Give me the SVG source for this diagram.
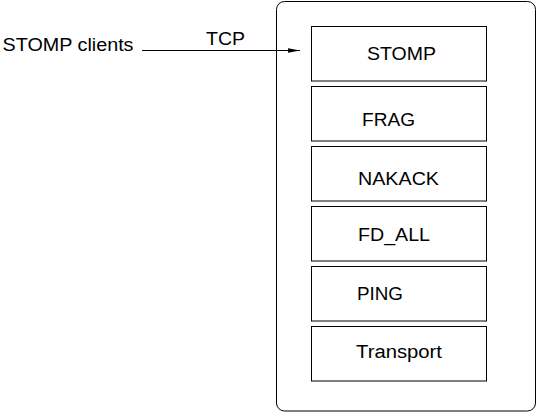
<svg xmlns="http://www.w3.org/2000/svg" width="537" height="412" viewBox="0 0 537 412">
<defs>
<style>
.box{fill:#fff;stroke:#000;stroke-width:1}
.t{font-family:"Liberation Sans",Arial,sans-serif;font-size:18px;fill:#000}
.c{stroke:#000;stroke-width:1;fill:none}
</style>
<marker id="ah" markerWidth="12" markerHeight="6" refX="12" refY="3" orient="auto" markerUnits="userSpaceOnUse">
<path d="M0,0.8 L12,3 L0,5.2 Z" fill="#000"/>
</marker>
</defs>
<rect width="537" height="412" fill="#fff"/>
<g id="container"><rect class="box" x="276.5" y="1.5" width="259" height="409.5" rx="8"/></g>
<g id="n-stomp"><rect class="box" x="311.5" y="26.5" width="175" height="54.5"/><text class="t" x="367" y="60" textLength="69" lengthAdjust="spacingAndGlyphs">STOMP</text></g>
<g id="n-frag"><rect class="box" x="311.5" y="86.5" width="175" height="54.5"/><text class="t" x="362" y="126" textLength="53" lengthAdjust="spacingAndGlyphs">FRAG</text></g>
<g id="n-nakack"><rect class="box" x="311.5" y="146.5" width="175" height="54.5"/><text class="t" x="358" y="185" textLength="81" lengthAdjust="spacingAndGlyphs">NAKACK</text></g>
<g id="n-fdall"><rect class="box" x="311.5" y="206.5" width="175" height="54.5"/><text class="t" x="358" y="240.5" textLength="72" lengthAdjust="spacingAndGlyphs">FD_ALL</text></g>
<g id="n-ping"><rect class="box" x="311.5" y="266.5" width="175" height="54.5"/><text class="t" x="357" y="300" textLength="46" lengthAdjust="spacingAndGlyphs">PING</text></g>
<g id="n-transport"><rect class="box" x="311.5" y="326.5" width="175" height="54.5"/><text class="t" x="356" y="357.5" textLength="86" lengthAdjust="spacingAndGlyphs">Transport</text></g>
<g id="n-clients"><text class="t" x="2.5" y="51" textLength="131" lengthAdjust="spacingAndGlyphs">STOMP clients</text></g>
<g id="connectors">
<line class="c" x1="142" y1="50.5" x2="300" y2="50.5" marker-end="url(#ah)"/>
<text class="t" x="206" y="45" textLength="39" lengthAdjust="spacingAndGlyphs">TCP</text>
</g>
</svg>
